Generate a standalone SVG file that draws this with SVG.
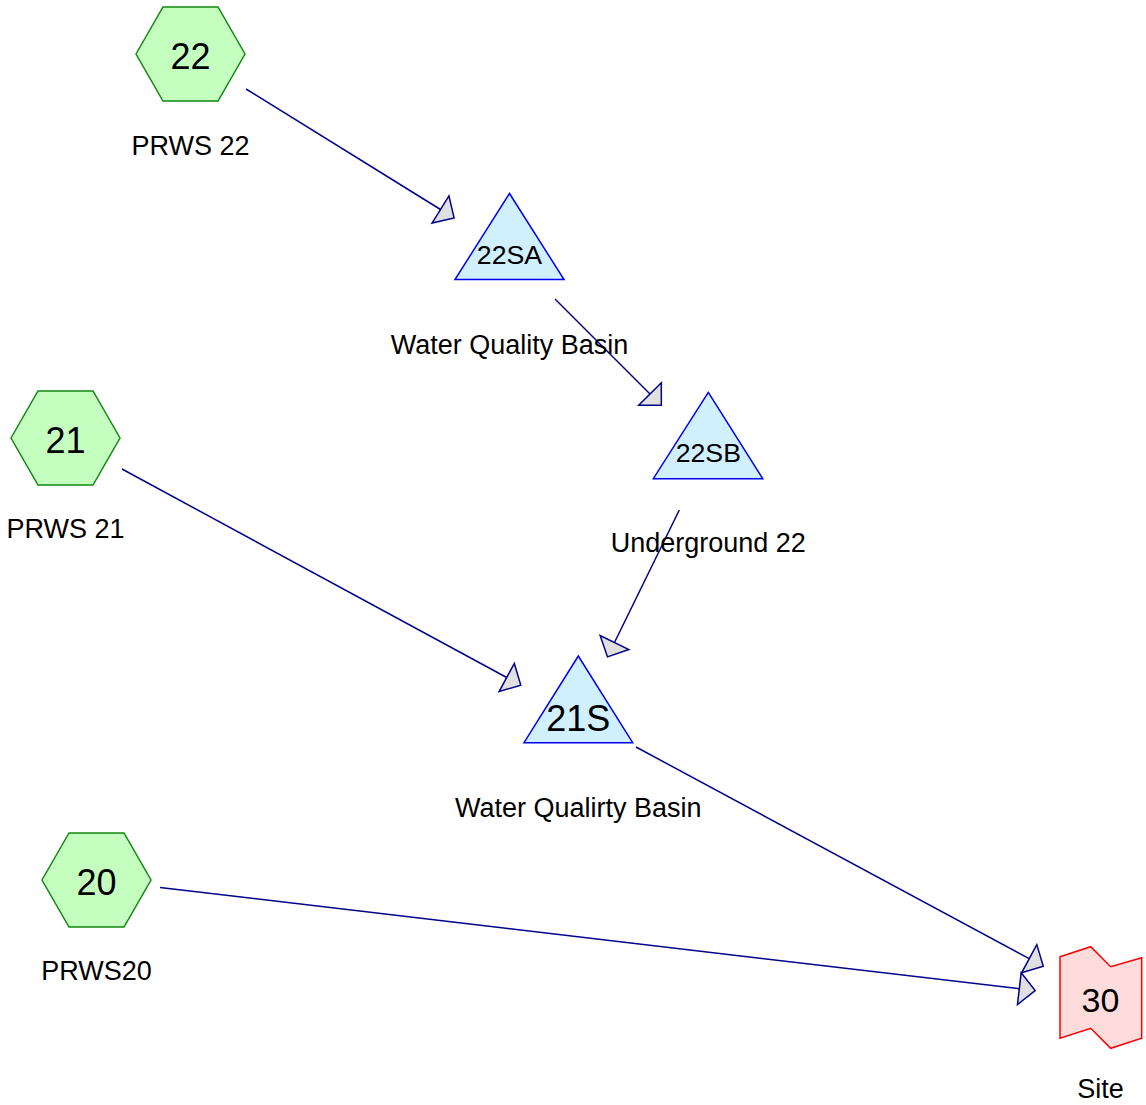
<svg xmlns="http://www.w3.org/2000/svg" width="1146" height="1105" viewBox="0 0 1146 1105">
  <style>
    text { font-family: "Liberation Sans", Arial, sans-serif; fill: #000; text-anchor: middle; }
    .lbl { font-size: 27px; }
    .big { font-size: 36px; }
    .mid { font-size: 26.7px; }
    .hex { fill: #c4ffc0; stroke: #118811; stroke-width: 1.5; }
    .tri { fill: #d0efff; stroke: #0000ee; stroke-width: 1.5; }
    .site { fill: #ffdcdc; stroke: #ff0000; stroke-width: 1.5; }
    .edge { fill: none; stroke: #00008b; stroke-width: 1.5; marker-end: url(#arrow); }
  </style>
  <defs>
    <marker id="arrow" markerUnits="userSpaceOnUse" viewBox="-2 -18 20 36" markerWidth="20" markerHeight="36" refX="0" refY="0" orient="auto" overflow="visible">
      <path d="M0,-16 L16,0 L0,16 Z" fill="#e0e0e0" stroke="#00008b" stroke-width="1.5" stroke-linejoin="miter"/>
    </marker>
  </defs>
  <rect width="1146" height="1105" fill="#fff"/>

  <g id="connectors">
    <line class="edge" x1="246" y1="89" x2="440.5" y2="209.5"/>
    <line class="edge" x1="555" y1="299" x2="650" y2="394"/>
    <line class="edge" x1="679.3" y1="510" x2="614.5" y2="642.5"/>
    <line class="edge" x1="122" y1="469" x2="506.7" y2="677.5"/>
    <line class="edge" x1="636" y1="747" x2="1029.2" y2="958.7"/>
    <line class="edge" x1="160" y1="887.5" x2="1019.3" y2="988.7"/>
  </g>

  <g id="node-22">
    <polygon class="hex" points="136,54 163,7 218,7 245,54 218,101 163,101"/>
    <text class="big" x="190.5" y="68.5">22</text>
    <text class="lbl" x="190.5" y="155">PRWS 22</text>
  </g>

  <g id="node-21">
    <polygon class="hex" points="11,438 38,391 93,391 120,438 93,485 38,485"/>
    <text class="big" x="65.5" y="452.5">21</text>
    <text class="lbl" x="65.5" y="538">PRWS 21</text>
  </g>

  <g id="node-20">
    <polygon class="hex" points="42,880 69,833 124,833 151,880 124,927 69,927"/>
    <text class="big" x="96.5" y="894.5">20</text>
    <text class="lbl" x="96.5" y="980">PRWS20</text>
  </g>

  <g id="node-22SA">
    <polygon class="tri" points="509.5,193.5 455,279.5 564,279.5"/>
    <text class="mid" x="509.5" y="264">22SA</text>
    <text class="lbl" x="509.5" y="353.5">Water Quality Basin</text>
  </g>

  <g id="node-22SB">
    <polygon class="tri" points="708.3,392.3 653.3,478.7 762.7,478.7"/>
    <text class="mid" x="708.3" y="462">22SB</text>
    <text class="lbl" x="708.3" y="552">Underground 22</text>
  </g>

  <g id="node-21S">
    <polygon class="tri" points="578.3,656 524,742.7 632.7,742.7"/>
    <text class="big" x="578.3" y="731">21S</text>
    <text class="lbl" x="578.3" y="817">Water Qualirty Basin</text>
  </g>

  <g id="node-30">
    <polygon class="site" points="1060,956.7 1090.7,946.7 1110.7,966.7 1141.7,957.7 1141.7,1038.3 1110.7,1048.3 1090.7,1028.3 1060,1038.3"/>
    <text style="font-size:34px" x="1100.5" y="1012">30</text>
    <text class="lbl" x="1100.5" y="1098">Site</text>
  </g>
</svg>
